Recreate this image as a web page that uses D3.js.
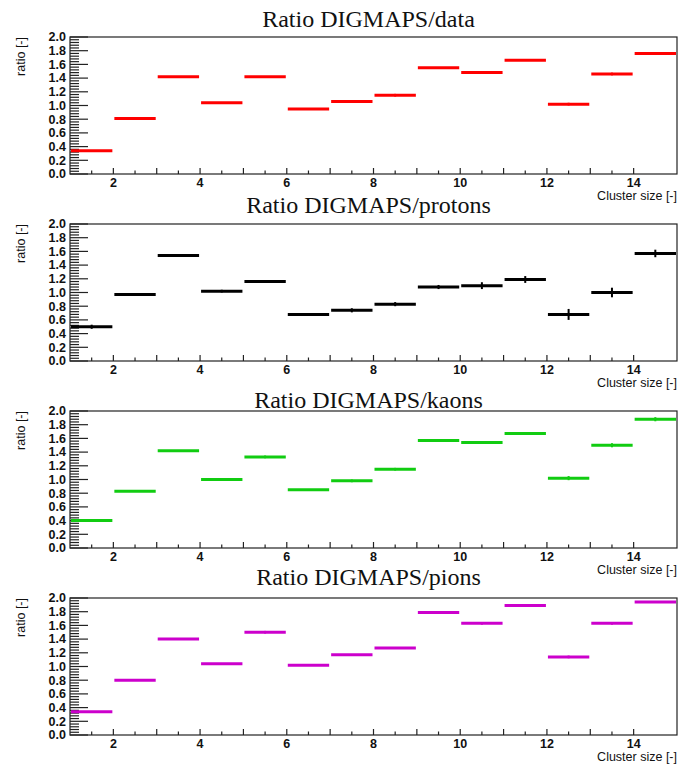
<!DOCTYPE html>
<meta charset="utf-8">
<html lang="en">
<head>
<title>Ratio DIGMAPS</title>
<script src="https://d3js.org/d3.v7.min.js"></script>
<style>
  html, body { margin: 0; padding: 0; background: #fff; }
  .tick-label { font-family: "Liberation Sans", Arial, sans-serif; font-size: 12.5px; font-weight: bold; fill: #111; }
  .axis-title { font-family: "Liberation Sans", Arial, sans-serif; font-size: 12.5px; fill: #111; }
  .panel-title { font-family: "Liberation Serif", "Times New Roman", serif; font-size: 24px; fill: #111; }
</style>
</head>
<body>
<div id="chart"></div>
<script>
// bin edges: cluster size 1..15, one bin per integer
const binEdges = [1, 2, 3, 4, 5, 6, 7, 8, 9, 10, 11, 12, 13, 14, 15];

// panel titles and colours
const titles = ["Ratio DIGMAPS/data", "Ratio DIGMAPS/protons", "Ratio DIGMAPS/kaons", "Ratio DIGMAPS/pions"];
const colors = ["#ff0000", "#000000", "#11cc11", "#cc00cc"];

// ratio values
const ratioData    = [0.34, 0.81, 1.42, 1.04, 1.42, 0.95, 1.06, 1.15, 1.55, 1.48, 1.66, 1.02, 1.46, 1.76];
const ratioProtons = [0.50, 0.97, 1.54, 1.02, 1.16, 0.68, 0.74, 0.83, 1.08, 1.10, 1.19, 0.68, 1.00, 1.57];
const ratioKaons   = [0.40, 0.83, 1.42, 1.00, 1.33, 0.85, 0.98, 1.15, 1.57, 1.54, 1.67, 1.02, 1.50, 1.88];
const ratioPions   = [0.34, 0.80, 1.40, 1.04, 1.50, 1.02, 1.17, 1.27, 1.79, 1.63, 1.89, 1.14, 1.63, 1.94];

// error bars (half heights)
const errData    = [0.01, 0.02, 0.01, 0.01, 0.01, 0.01, 0.02, 0.02, 0.01, 0.01, 0.01, 0.02, 0.02, 0.01];
const errProtons = [0.03, 0.02, 0.02, 0.02, 0.02, 0.02, 0.03, 0.03, 0.03, 0.05, 0.05, 0.08, 0.07, 0.055];
const errKaons   = [0.02, 0.01, 0.01, 0.02, 0.02, 0.01, 0.02, 0.02, 0.02, 0.02, 0.02, 0.03, 0.03, 0.03];
const errPions   = [0.01, 0.01, 0.01, 0.01, 0.02, 0.01, 0.01, 0.01, 0.02, 0.02, 0.02, 0.02, 0.02, 0.01];

const allValues = [ratioData, ratioProtons, ratioKaons, ratioPions];
const allErrors = [errData, errProtons, errKaons, errPions];

const xTickLabels = [2, 4, 6, 8, 10, 12, 14];
const yTickLabels = [0, 0.2, 0.4, 0.6, 0.8, 1.0, 1.2, 1.4, 1.6, 1.8, 2.0];

const W = 678, H = 764;
const left = 70, right = 677;
const panelTop = [37, 224, 411, 598];   // frame tops
const titleY = [27, 213, 408, 585];     // title baselines
const panelH = 137;

const svg = d3.select("#chart").append("svg")
    .attr("width", W).attr("height", H);

const x = d3.scaleLinear().domain([1, 15]).range([left, right]);

allValues.forEach(function (vals, p) {
    const top = panelTop[p], bottom = top + panelH;
    const y = d3.scaleLinear().domain([0, 2]).range([bottom, top]);
    const g = svg.append("g");

    // frame
    g.append("rect")
        .attr("x", left).attr("y", top)
        .attr("width", right - left).attr("height", panelH)
        .attr("fill", "none").attr("stroke", "#222").attr("stroke-width", 1.2);

    // y ticks: major every 0.2, minor every 0.04
    const yMinor = d3.range(0, 51).map(i => i * 0.04);
    g.selectAll(".ytick").data(yMinor).enter().append("line")
        .attr("x1", left)
        .attr("x2", (d, i) => left + (i % 5 === 0 ? 18 : 9))
        .attr("y1", d => y(d)).attr("y2", d => y(d))
        .attr("stroke", "#222").attr("stroke-width", 1.2);

    g.selectAll(".ylab").data(yTickLabels).enter().append("text")
        .attr("class", "tick-label")
        .attr("x", left - 4).attr("y", d => y(d))
        .attr("dy", "0.35em")
        .attr("text-anchor", "end")
        .text(d => d3.format(".1f")(d));

    // x ticks: every 0.5, longer at integers
    const xMinor = d3.range(2, 29).map(i => i * 0.5).filter(d => d > 1 && d < 15);
    g.selectAll(".xtick").data(xMinor).enter().append("line")
        .attr("x1", d => x(d)).attr("x2", d => x(d))
        .attr("y1", bottom)
        .attr("y2", d => bottom - (d % 1 === 0 ? 6 : 3.5))
        .attr("stroke", "#222").attr("stroke-width", 1.2);

    g.selectAll(".xlab").data(xTickLabels).enter().append("text")
        .attr("class", "tick-label")
        .attr("x", d => x(d)).attr("y", bottom + 13)
        .attr("text-anchor", "middle")
        .text(d => d);

    // axis titles
    g.append("text")
        .attr("class", "axis-title")
        .attr("x", right).attr("y", bottom + 26)
        .attr("text-anchor", "end")
        .text("Cluster size [-]");

    g.append("text")
        .attr("class", "axis-title")
        .attr("transform", "translate(25," + top + ")rotate(-90)")
        .attr("text-anchor", "end")
        .text("ratio [-]");

    // title
    g.append("text")
        .attr("class", "panel-title")
        .attr("x", (left + right) / 2 - 5).attr("y", titleY[p])
        .attr("text-anchor", "middle")
        .text(titles[p]);

    // bins
    const bins = vals.map((v, i) => ({ lo: binEdges[i], hi: binEdges[i + 1], v: v, e: allErrors[p][i] }));

    g.selectAll(".err").data(bins).enter().append("line")
        .attr("x1", d => x((d.lo + d.hi) / 2)).attr("x2", d => x((d.lo + d.hi) / 2))
        .attr("y1", d => y(d.v - d.e)).attr("y2", d => y(d.v + d.e))
        .attr("stroke", colors[p]).attr("stroke-width", 2);

    g.selectAll(".bin").data(bins).enter().append("line")
        .attr("x1", d => x(d.lo) + 1).attr("x2", d => x(d.hi) - 1)
        .attr("y1", d => y(d.v)).attr("y2", d => y(d.v))
        .attr("stroke", colors[p]).attr("stroke-width", 3);
});
</script>
</body>
</html>
